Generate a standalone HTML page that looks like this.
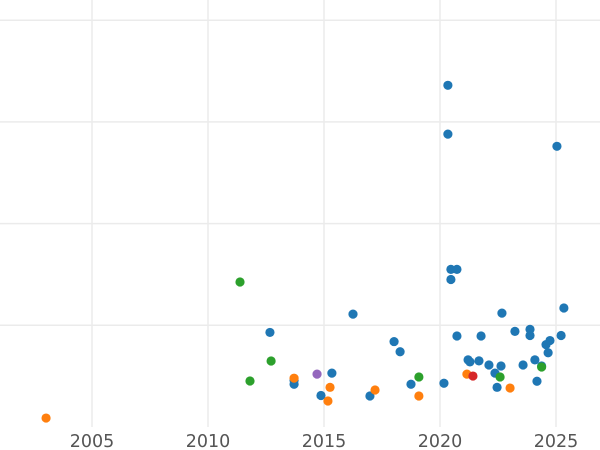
<!DOCTYPE html>
<html><head><meta charset="utf-8"><style>
html,body{margin:0;padding:0;background:#fff;}
svg{display:block;font-family:"DejaVu Sans","Liberation Sans",sans-serif;}
</style></head><body>
<svg id="chart" width="600" height="450" viewBox="0 0 600 450">
<g id="grid"></g>
<g id="xticks"></g>
<g id="points"></g>
</svg>
<script>
const xTicks = [2005, 2010, 2015, 2020, 2025];
const yGrid = [100, 200, 300, 400];
const blueYears = [2020.34,2020.34,2025.04,2020.47,2020.73,2020.47,2016.25,2022.67,2025.34,2012.67,2020.73,2021.77,2023.23,2023.88,2023.88,2025.22,2018.02,2024.74,2024.57,2018.28,2024.66,2021.21,2021.29,2021.68,2022.11,2022.63,2023.58,2024.09,2024.38,2015.34,2022.37,2013.71,2013.71,2018.75,2020.17,2024.18,2022.46,2014.87,2016.98];
const blueValues = [336,288,276,155,155,145,111,112,117,93,89.5,89.5,94,96,90,90,84,85,81,74,73,66,64,65,61,60,61,66,60,53,53,42,46,42,43,45,39,31,30.5];
const orangeYears = [2003.02,2013.71,2015.26,2015.17,2017.2,2019.09,2021.16,2023.02];
const orangeValues = [8.8,48,39,25.6,36.4,30.5,52,38.3];
const greenYears = [2011.38,2011.81,2012.72,2019.09,2022.59,2024.38];
const greenValues = [142.6,45.2,64.9,49.2,49.2,59];
const purpleYears = [2014.7];
const purpleValues = [52];
const redYears = [2021.42];
const redValues = [50.1];

const NS = "http://www.w3.org/2000/svg";
const xScale = y => 92 + (y - 2005) * 23.2;
const yScale = v => 427 - v * 1.017;

const grid = document.getElementById('grid');
xTicks.forEach(t => {
  const l = document.createElementNS(NS, 'line');
  l.setAttribute('x1', xScale(t)); l.setAttribute('x2', xScale(t));
  l.setAttribute('y1', 0); l.setAttribute('y2', 427);
  l.setAttribute('stroke', '#ebebeb'); l.setAttribute('stroke-width', '1.5');
  
  
  grid.appendChild(l);
});
yGrid.forEach(v => {
  const l = document.createElementNS(NS, 'line');
  l.setAttribute('x1', 0); l.setAttribute('x2', 600);
  l.setAttribute('y1', yScale(v)); l.setAttribute('y2', yScale(v));
  l.setAttribute('stroke', '#ebebeb'); l.setAttribute('stroke-width', '1.5');
  
  
  grid.appendChild(l);
});
const xt = document.getElementById('xticks');
xTicks.forEach(t => {
  const tx = document.createElementNS(NS, 'text');
  tx.setAttribute('x', xScale(t)); tx.setAttribute('y', 447);
  tx.setAttribute('text-anchor', 'middle');
  tx.setAttribute('font-size', '17.5'); tx.setAttribute('fill', '#555');
  tx.textContent = t;
  
  
  xt.appendChild(tx);
});
const pts = document.getElementById('points');
function drawSeries(xs, vs, color, name) {
  xs.forEach((x, i) => {
    const c = document.createElementNS(NS, 'circle');
    c.setAttribute('cx', xScale(x)); c.setAttribute('cy', yScale(vs[i]));
    c.setAttribute('r', 4.6); c.setAttribute('fill', color);
    
    
    pts.appendChild(c);
  });
}
drawSeries(blueYears, blueValues, '#1f77b4', 'point-blue');
drawSeries(orangeYears, orangeValues, '#ff7f0e', 'point-orange');
drawSeries(greenYears, greenValues, '#2ca02c', 'point-green');
drawSeries(purpleYears, purpleValues, '#9467bd', 'point-purple');
drawSeries(redYears, redValues, '#d62728', 'point-red');
</script>
</body></html>
